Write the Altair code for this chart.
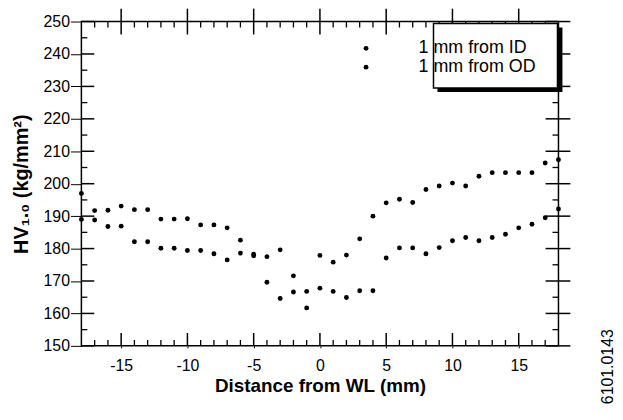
import altair as alt
import pandas as pd

# ---- data ----
distance_mm = list(range(-18, 19))
hv_id = [197.0, 191.7, 191.8, 193.1, 192.0, 192.0, 189.1, 189.1, 189.2, 187.3,
         187.3, 186.4, 182.6, 178.3, 169.6, 164.6, 166.6, 161.7, 167.8, 166.8,
         164.9, 167.0, 167.0, 177.1, 180.2, 180.2, 178.4, 180.3, 182.4, 183.4,
         182.4, 183.4, 184.4, 186.4, 187.5, 189.5, 192.2]
hv_od = [189.0, 188.8, 186.8, 186.9, 182.1, 182.1, 180.1, 180.1, 179.4, 179.4,
         178.4, 176.5, 178.6, 177.8, 177.5, 179.6, 171.6, 166.8, 177.9, 175.8,
         178.0, 183.0, 190.0, 194.1, 195.2, 194.2, 198.2, 199.3, 200.2, 199.3,
         202.3, 203.4, 203.4, 203.4, 203.4, 206.4, 207.4]
series_names = ["1 mm from ID", "1 mm from OD"]
x_major_ticks = [-15, -10, -5, 0, 5, 10, 15]
x_minor_ticks = [v for v in range(-17, 18) if v % 5 != 0]
y_major_ticks = list(range(150, 251, 10))
y_minor_ticks = list(range(155, 250, 10))
x_title = "Distance from WL (mm)"
y_title = "HV\u2081.\u2080 (kg/mm\u00b2)"
figure_code = "6101.0143"

W, H = 481, 327
FONT = "Liberation Sans"

df = pd.DataFrame({
    "distance": distance_mm * 2,
    "hv": hv_id + hv_od,
    "series": [series_names[0]] * len(distance_mm) + [series_names[1]] * len(distance_mm),
})
xmaj = pd.DataFrame({"distance": x_major_ticks})
xmin = pd.DataFrame({"distance": x_minor_ticks})
ymaj = pd.DataFrame({"hv": y_major_ticks})
ymin = pd.DataFrame({"hv": y_minor_ticks})
one = pd.DataFrame({"k": [0]})

xs = alt.Scale(domain=[-18, 18], nice=False, zero=False)
ys = alt.Scale(domain=[150, 250], nice=False, zero=False)

x_axis = alt.Axis(values=x_major_ticks, title=x_title, grid=False, domain=False,
                  tickSize=2, tickColor="black", labelPadding=10, labelFontSize=16,
                  labelFont=FONT, labelColor="black", titleFont=FONT, titleFontSize=19,
                  titleFontWeight="bold", titleColor="black", titlePadding=3,
                  labelFlush=False, labelExpr="datum.value + ''")
y_axis = alt.Axis(values=y_major_ticks, title=y_title, grid=False, domain=False,
                  tickSize=11, tickColor="black", labelPadding=1, labelFontSize=16,
                  labelFont=FONT, labelColor="black", titleFont=FONT, titleFontSize=20,
                  titleFontWeight="bold", titleColor="black", titlePadding=12,
                  labelFlush=False)

X = lambda: alt.X("distance:Q", scale=xs, axis=x_axis)
Y = lambda: alt.Y("hv:Q", scale=ys, axis=y_axis)

points = alt.Chart(df).mark_circle(size=24, color="black", opacity=1).encode(
    x=X(), y=Y(), detail="series:N"
)

def xrule(data, y0, y1, w=1.3):
    return alt.Chart(data).mark_rule(color="black", strokeWidth=w).encode(
        x=X(), y=alt.value(y0), y2=alt.value(y1))

def yrule(data, x0, x1, w=1.3):
    return alt.Chart(data).mark_rule(color="black", strokeWidth=w).encode(
        y=Y(), x=alt.value(x0), x2=alt.value(x1))

ticks = [
    xrule(xmaj, H, H - 13, 1.5),
    xrule(xmaj, -13, 13, 1.5),
    xrule(xmin, H, H - 6),
    xrule(xmin, 0, 6),
    yrule(ymaj, 0, 13, 1.5),
    yrule(ymin, 0, 6),
    yrule(ymaj, W - 13, W + 12, 1.5),
    yrule(ymin, W - 6, W),
]

shadow = alt.Chart(one).mark_rect(color="black").encode(
    x=alt.value(359), x2=alt.value(485), y=alt.value(6), y2=alt.value(71))
box = alt.Chart(one).mark_rect(fill="white", stroke="black", strokeWidth=1.5).encode(
    x=alt.value(355), x2=alt.value(480), y=alt.value(2), y2=alt.value(67))

legend_layers = []
for i, name in enumerate(series_names):
    yy = 27 + 19 * i
    legend_layers.append(alt.Chart(one).mark_circle(size=24, color="black", opacity=1).encode(
        x=alt.value(287), y=alt.value(yy)))
    legend_layers.append(alt.Chart(one).mark_text(
        align="left", baseline="middle", font=FONT, fontSize=18, color="black").encode(
        x=alt.value(340), y=alt.value(yy), text=alt.value(name)))

code_text = alt.Chart(one).mark_text(
    angle=270, align="center", baseline="middle", font=FONT, fontSize=16, color="black").encode(
    x=alt.value(531), y=alt.value(348), text=alt.value(figure_code))

chart = alt.layer(points, *ticks, shadow, box, *legend_layers, code_text).properties(
    width=W, height=H,
    autosize=alt.AutoSizeParams(type="none"),
    padding={"left": 74, "top": 12, "right": 57, "bottom": 62},
    background="white",
).configure_view(stroke="black", strokeWidth=1.5)

chart.save("out.html", embed_options={"renderer": "svg", "actions": False})
